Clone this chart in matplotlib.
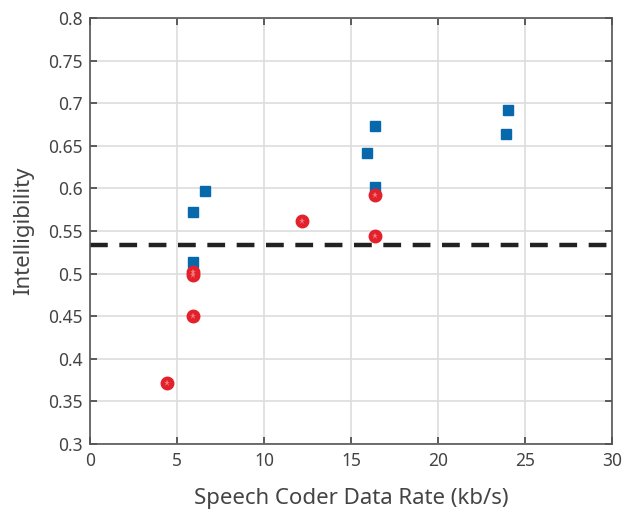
import numpy as np
import matplotlib.pyplot as plt

plt.rcParams['font.family'] = ['Noto Sans', 'DejaVu Sans']

# 数据
blue_x = [5.9, 6.6, 5.9, 15.9, 16.4, 16.4, 23.9, 24.0]
blue_y = [0.572, 0.597, 0.514, 0.642, 0.673, 0.602, 0.664, 0.692]
red_x = [4.4, 5.9, 5.9, 5.9, 12.2, 16.4, 16.4]
red_y = [0.372, 0.502, 0.498, 0.450, 0.562, 0.592, 0.544]
threshold = 0.534

x_ticks = [0, 5, 10, 15, 20, 25, 30]
y_ticks = [0.3, 0.35, 0.4, 0.45, 0.5, 0.55, 0.6, 0.65, 0.7, 0.75, 0.8]

fig = plt.figure(figsize=(6.22, 5.09), dpi=100)
ax = fig.add_axes([0.1447, 0.1277, 0.8393, 0.8369])

ax.axhline(threshold, color='#222222', linestyle=(0, (4, 2.6)), linewidth=3.2, zorder=2)
ax.plot(blue_x, blue_y, 's', color='#0868ac', markersize=7.5, markeredgecolor='#0868ac', zorder=3)
ax.plot(red_x, red_y, 'o', color='#e3212b', markersize=9, markeredgecolor='#e3212b', zorder=3)
ax.plot(red_x, red_y, '*', color='#f07a80', markersize=5, markeredgewidth=0, zorder=4)

ax.set_xlim(0, 30)
ax.set_ylim(0.3, 0.8)
ax.set_xticks(x_ticks)
ax.set_yticks(y_ticks)
ax.set_xticklabels([str(t) for t in x_ticks])
ax.set_yticklabels([f'{t:g}' for t in y_ticks])
ax.grid(True, color='#dddddd', linewidth=1.2)
ax.set_axisbelow(True)

ax.tick_params(direction='in', length=5, width=1.2, colors='#444444', labelsize=12.5,
               top=True, right=True, pad=5)
ax.tick_params(axis='x', pad=6)
for s in ax.spines.values():
    s.set_color('#555555')
    s.set_linewidth(1.2)

ax.set_xlabel('Speech Coder Data Rate (kb/s)', fontsize=16, color='#444444', labelpad=13)
ax.set_ylabel('Intelligibility', fontsize=16, color='#444444', labelpad=10)

plt.savefig('out.png', dpi=100)
